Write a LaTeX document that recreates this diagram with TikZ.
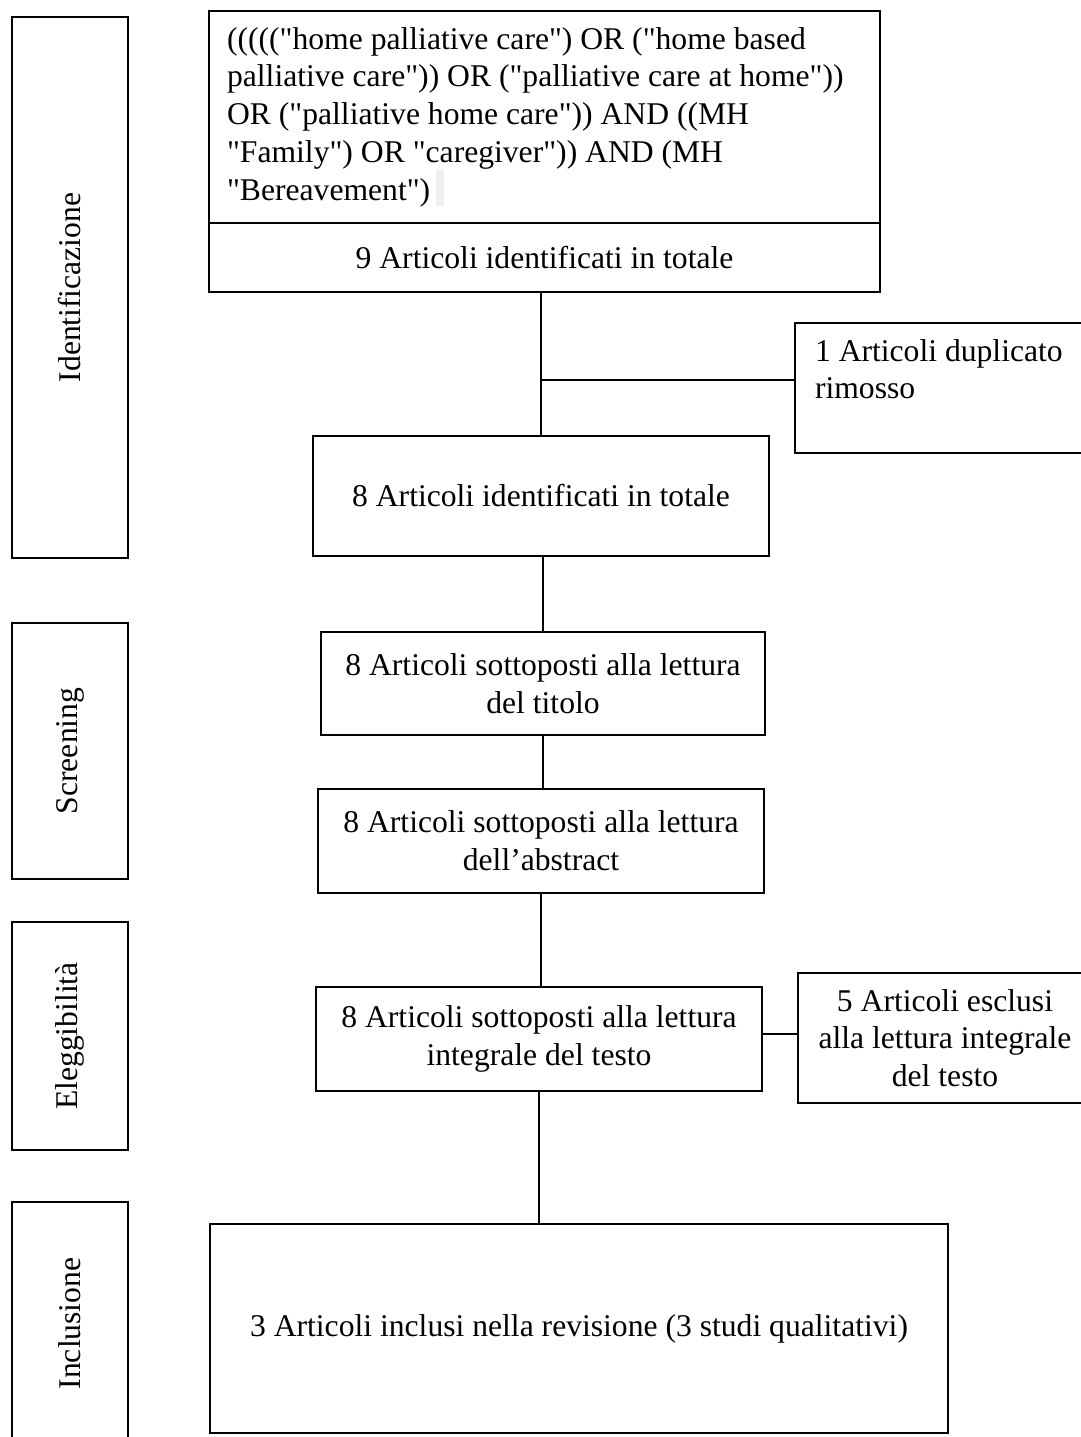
\documentclass[tikz,border=0pt]{standalone}
\usepackage{fontspec}
\setmainfont{Liberation Serif}[Ligatures=TeXOff]
\usetikzlibrary{positioning}

\begin{document}
\begin{tikzpicture}[
    x=0.02cm, y=-0.02cm,
    box/.style={rectangle, draw=black, line width=0.8pt, align=center,
                inner sep=0pt, font=\fontsize{18}{21.5}\selectfont},
    phase/.style={box, rotate=90, minimum height=2.32cm},
    link/.style={draw=black, line width=0.6pt}
]
\clip (0,0) rectangle (1081,1437);

% fasi a sinistra
\node[phase, minimum width=10.82cm] (ident) at (70,287.5) {Identificazione};
\node[phase, minimum width=5.12cm] (screen) at (70,751) {Screening};
\node[phase, minimum width=4.56cm] (elig) at (70,1036) {Eleggibilità};
\node[phase, minimum width=4.86cm] (incl) at (70,1323.5) {Inclusione};

% stringa di ricerca
\fill[black!6] (436,169) rectangle (444,206);
\node[box, align=flush left, text width=12.7cm, inner xsep=0.36cm,
      minimum height=4.24cm] (query) at (544.5,117)
  {((((("home palliative care") OR ("home based\\
   palliative care")) OR ("palliative care at home"))\\
   OR ("palliative home care")) AND ((MH\\
   "Family") OR "caregiver")) AND (MH\\
   "Bereavement")};
\node[box, minimum width=13.42cm, minimum height=1.38cm] (tot9) at (544.5,257.5)
  {9 Articoli identificati in totale};
\node[box, align=flush left, text width=5.2cm, inner xsep=0.4cm,
      minimum height=2.6cm] (dup) at (945,388)
  {1 Articoli duplicato\\ rimosso\\ \mbox{}};
\node[box, minimum width=9.12cm, minimum height=2.4cm] (tot8) at (541,496)
  {8 Articoli identificati in totale};

% screening
\node[box, minimum width=8.88cm, minimum height=2.06cm] (titolo) at (543,683.5)
  {8 Articoli sottoposti alla lettura\\ del titolo};
\node[box, minimum width=8.92cm, minimum height=2.08cm] (abstract) at (541,841)
  {8 Articoli sottoposti alla lettura\\ dell’abstract};

% eleggibilita
\node[box, minimum width=8.92cm, minimum height=2.08cm] (integrale) at (539,1039)
  {8 Articoli sottoposti alla lettura\\ integrale del testo};
\node[box, minimum width=5.88cm, minimum height=2.6cm] (esclusi) at (945,1038)
  {5 Articoli esclusi\\ alla lettura integrale\\ del testo};

% inclusione
\node[box, minimum width=14.76cm, minimum height=4.18cm] (inclusi) at (579,1328.5)
  {3 Articoli inclusi nella revisione (3 studi qualitativi)};

% collegamenti
\coordinate (dupjoin) at ([yshift=0.16cm]dup.west);
\coordinate (escljoin) at ([yshift=0.08cm]esclusi.west);
\draw[link] (tot8.north) -- (tot8.north |- tot9.south);
\draw[link] (dupjoin) -- (dupjoin -| tot8.north);
\draw[link] (titolo.north) -- (titolo.north |- tot8.south);
\draw[link] (titolo.south) -- (titolo.south |- abstract.north);
\draw[link] (abstract.south) -- (abstract.south |- integrale.north);
\draw[link] (escljoin) -- (escljoin -| integrale.east);
\draw[link] (integrale.south) -- (integrale.south |- inclusi.north);

\end{tikzpicture}
\end{document}
